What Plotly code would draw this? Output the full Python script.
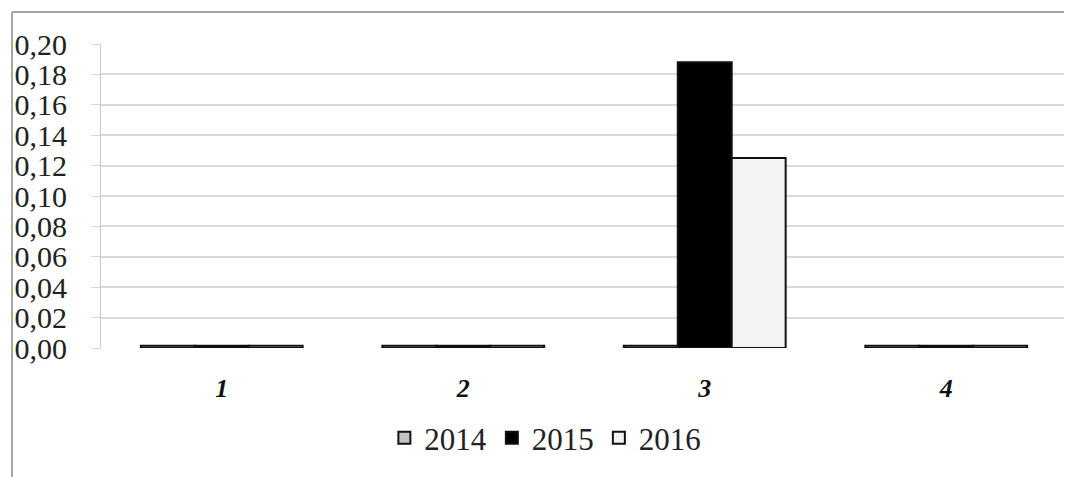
import plotly.graph_objects as go

categories = ["1", "2", "3", "4"]
years = ["2014", "2015", "2016"]
v2014 = [0.0015, 0.0015, 0.0015, 0.0015]
v2015 = [0.0015, 0.0015, 0.188, 0.0015]
v2016 = [0.0015, 0.0015, 0.125, 0.0015]
y_ticks = [0.00, 0.02, 0.04, 0.06, 0.08, 0.10, 0.12, 0.14, 0.16, 0.18, 0.20]
y_tick_text = ["0,00", "0,02", "0,04", "0,06", "0,08", "0,10", "0,12", "0,14", "0,16", "0,18", "0,20"]

series = [v2014, v2015, v2016]
fills = ["#c4c4c4", "#000000", "#f3f3f3"]

fig = go.Figure()
for name, vals, col in zip(years, series, fills):
    fig.add_trace(go.Bar(
        x=categories, y=vals, name=name,
        marker=dict(color=col, line=dict(color="#111111", width=2)),
    ))

# page body adds an 8px offset; figure sized to fill the rest of the window
OFF = 8
W, H = 1064, 469
L, R, T, B = 101 - OFF, 5, 44 - OFF, 129
pw, ph = W - L - R, H - T - B

def px(x):
    return (x - OFF - L) / pw

def py(y):
    return (H - B - (y - OFF)) / ph

fig.update_layout(
    width=W, height=H,
    margin=dict(l=L, r=R, t=T, b=B),
    paper_bgcolor="white", plot_bgcolor="white",
    barmode="group", bargap=0.33, bargroupgap=0,
    font=dict(family="Liberation Serif", color="#111111"),
    showlegend=True,
    legend=dict(orientation="h", x=0.46, xanchor="center", y=py(438), yanchor="middle",
                font=dict(size=31, family="Liberation Serif", color="#222222"),
                itemwidth=30, traceorder="normal", tracegroupgap=0),
    shapes=[
        dict(type="line", xref="paper", yref="paper", x0=px(12), x1=px(12), y0=py(12), y1=py(H + 20),
             line=dict(color="#a6a6a6", width=2)),
        dict(type="line", xref="paper", yref="paper", x0=px(12), x1=px(W + 20), y0=py(12), y1=py(12),
             line=dict(color="#a6a6a6", width=2)),
    ],
)
fig.update_yaxes(
    range=[0, 0.2], tickvals=y_ticks, ticktext=y_tick_text,
    showgrid=True, gridcolor="#d9d9d9", gridwidth=1.5, zeroline=False,
    showline=True, linecolor="#c8c8c8", linewidth=1,
    ticks="outside", ticklen=9, tickcolor="#d9d9d9",
    ticklabelstandoff=18,
    tickfont=dict(size=30, family="Liberation Serif", color="#222222"),
)
fig.update_xaxes(
    showgrid=False, zeroline=False, showline=False,
    ticks="", ticklabelstandoff=22,
    tickfont=dict(size=26, family="Liberation Serif", color="#111111", weight="bold", style="italic"),
)

fig.write_html("out.html")
